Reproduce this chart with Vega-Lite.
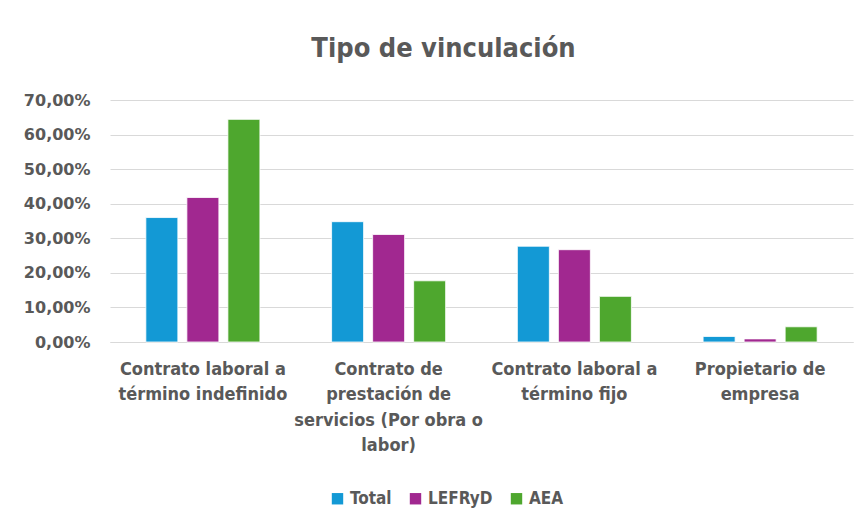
{
  "$schema": "https://vega.github.io/schema/vega-lite/v6.json",
  "width": 743,
  "height": 242,
  "autosize": {"type": "none"},
  "padding": {"left": 110, "top": 100, "right": 14, "bottom": 186},
  "background": "white",
  "title": {
    "text": "Tipo de vinculación",
    "fontSize": 27,
    "font": "Liberation Sans Narrow, DejaVu Sans Condensed, Roboto, sans-serif",
    "fontWeight": "bold",
    "color": "#595959",
    "anchor": "middle",
    "dx": -38,
    "offset": 29
  },
  "data": {
    "values": [
      {"cat": "Contrato laboral a|término indefinido", "serie": "Total", "valor": 36.0},
      {"cat": "Contrato laboral a|término indefinido", "serie": "LEFRyD", "valor": 41.8},
      {"cat": "Contrato laboral a|término indefinido", "serie": "AEA", "valor": 64.4},
      {"cat": "Contrato de|prestación de|servicios (Por obra o|labor)", "serie": "Total", "valor": 34.8},
      {"cat": "Contrato de|prestación de|servicios (Por obra o|labor)", "serie": "LEFRyD", "valor": 31.1},
      {"cat": "Contrato de|prestación de|servicios (Por obra o|labor)", "serie": "AEA", "valor": 17.7},
      {"cat": "Contrato laboral a|término fijo", "serie": "Total", "valor": 27.7},
      {"cat": "Contrato laboral a|término fijo", "serie": "LEFRyD", "valor": 26.7},
      {"cat": "Contrato laboral a|término fijo", "serie": "AEA", "valor": 13.2},
      {"cat": "Propietario de|empresa", "serie": "Total", "valor": 1.6},
      {"cat": "Propietario de|empresa", "serie": "LEFRyD", "valor": 0.9},
      {"cat": "Propietario de|empresa", "serie": "AEA", "valor": 4.4}
    ]
  },
  "mark": {"type": "bar", "stroke": "white", "strokeWidth": 0.8},
  "encoding": {
    "x": {
      "field": "cat",
      "type": "nominal",
      "sort": null,
      "scale": {"paddingInner": 0.386, "paddingOuter": 0.193},
      "axis": {
        "title": null,
        "labelAngle": 0,
        "labelExpr": "split(datum.label, '|')",
        "labelFont": "Liberation Sans Narrow, DejaVu Sans Condensed, Roboto, sans-serif",
        "labelFontSize": 18,
        "labelFontWeight": "bold",
        "labelColor": "#595959",
        "labelLineHeight": 25.5,
        "labelPadding": 18,
        "labelLimit": 0,
        "ticks": false,
        "domainColor": "#D9D9D9",
        "domainWidth": 1,
        "grid": false
      }
    },
    "xOffset": {
      "field": "serie",
      "type": "nominal",
      "sort": ["Total", "LEFRyD", "AEA"],
      "scale": {"paddingInner": 0.22, "paddingOuter": 0}
    },
    "y": {
      "field": "valor",
      "type": "quantitative",
      "scale": {"domain": [0, 70], "nice": false},
      "axis": {
        "title": null,
        "values": [0, 10, 20, 30, 40, 50, 60, 70],
        "labelExpr": "replace(format(datum.value, '.2f'), '.', ',') + '%'",
        "labelFont": "DejaVu Sans, sans-serif",
        "labelFontSize": 16,
        "labelFontWeight": "bold",
        "labelColor": "#595959",
        "labelPadding": 20,
        "ticks": false,
        "domain": false,
        "gridColor": "#D9D9D9",
        "gridWidth": 1
      }
    },
    "color": {
      "field": "serie",
      "type": "nominal",
      "sort": ["Total", "LEFRyD", "AEA"],
      "scale": {"domain": ["Total", "LEFRyD", "AEA"], "range": ["#1399D5", "#A12890", "#4EA72E"]},
      "legend": {
        "title": null,
        "orient": "none",
        "direction": "horizontal",
        "legendX": 219,
        "legendY": 390,
        "symbolType": "square",
        "symbolSize": 130,
        "symbolStrokeWidth": 0,
        "labelFont": "Liberation Sans Narrow, DejaVu Sans Condensed, Roboto, sans-serif",
        "labelFontSize": 17,
        "labelFontWeight": "bold",
        "labelColor": "#595959",
        "labelOffset": 4,
        "columnPadding": 15
      }
    }
  },
  "config": {"view": {"stroke": null}}
}
